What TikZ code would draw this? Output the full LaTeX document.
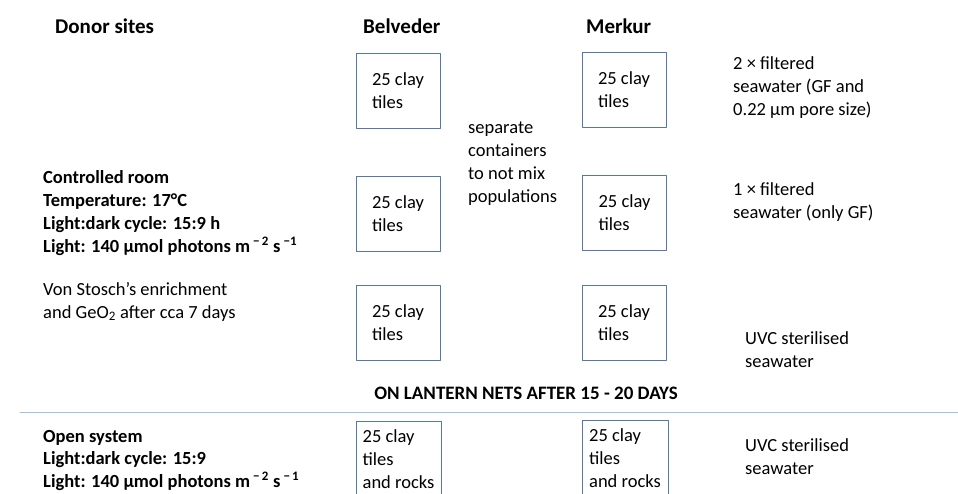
\documentclass[tikz,border=0pt]{standalone}
\usepackage{fontspec}
\setmainfont{Carlito}
\usetikzlibrary{positioning}
\definecolor{boxblue}{RGB}{84,120,172}
\definecolor{ruleblue}{RGB}{157,195,230}

\begin{document}
\begin{tikzpicture}[x=1pt, y=-1pt, line cap=round, line join=round,
  every node/.style={inner sep=0pt, font=\fontsize{18.5}{23}\selectfont},
  head/.style={anchor=base west, font=\fontsize{21}{24}\selectfont\bfseries},
  info/.style={anchor=base west, align=left},
  tilebox/.style={draw=boxblue, line width=0.8pt, minimum width=84pt, minimum height=75pt, align=left}]

\useasboundingbox (0,0) rectangle (958,493);

\node[head] (donor) at (55,33) {Donor sites};
\node[head] (belv) at (363,33) {Belveder};
\node[head] (merk) at (586,33) {Merkur};

\node[tilebox] (b1) at (398,90.5) {25 clay\\tiles};
\node[tilebox] (b2) at (398,213.5) {25 clay\\tiles};
\node[tilebox] (b3) at (398,323) {25 clay\\tiles};
\node[tilebox] (m1) at (624,90) {25 clay\\tiles};
\node[tilebox] (m2) at (624.5,212.5) {25 clay\\tiles};
\node[tilebox] (m3) at (624,323) {25 clay\\tiles};

\node[info] (sep) at (468,202) {separate\\containers\\to not mix\\populations};

\node[info] (twice) at (733,115) {2 × filtered\\seawater (GF and\\0.22 µm pore size)};
\node[info] (once) at (733,218) {1 × filtered\\seawater (only GF)};
\node[info] (uvc1) at (745,367) {UVC sterilised\\seawater};

\node[info, font=\fontsize{18.5}{23}\selectfont\bfseries] (room) at (43,252) {Controlled room\\Temperature: 17°C\\Light:dark cycle: 15:9 h\\Light: 140 µmol photons m\,\textsuperscript{−\,2} s\,\textsuperscript{−1}};
\node[info] (enrich) at (43,318) {Von Stosch’s enrichment\\and GeO\textsubscript{2} after cca 7 days};

\node[font=\fontsize{19}{22}\selectfont\bfseries] (nets) at (526,393) {ON LANTERN NETS AFTER 15 - 20 DAYS};
\draw[ruleblue, line width=1pt] (20,412) -- (958,412);

\node[info, font=\fontsize{18.5}{22.5}\selectfont\bfseries] (open) at (43,487) {Open system\\Light:dark cycle: 15:9\\Light: 140 µmol photons m\,\textsuperscript{−\,2} s\,\textsuperscript{−\,1}};
\node[tilebox, anchor=north, minimum width=85pt, minimum height=76pt] (b4) at (398.5,421) {25 clay\\tiles\\and rocks};
\node[tilebox, anchor=north, minimum width=86pt, minimum height=76pt] (m4) at (625,420) {25 clay\\tiles\\and rocks};
\node[info] (uvc2) at (745,474) {UVC sterilised\\seawater};

\end{tikzpicture}
\end{document}
